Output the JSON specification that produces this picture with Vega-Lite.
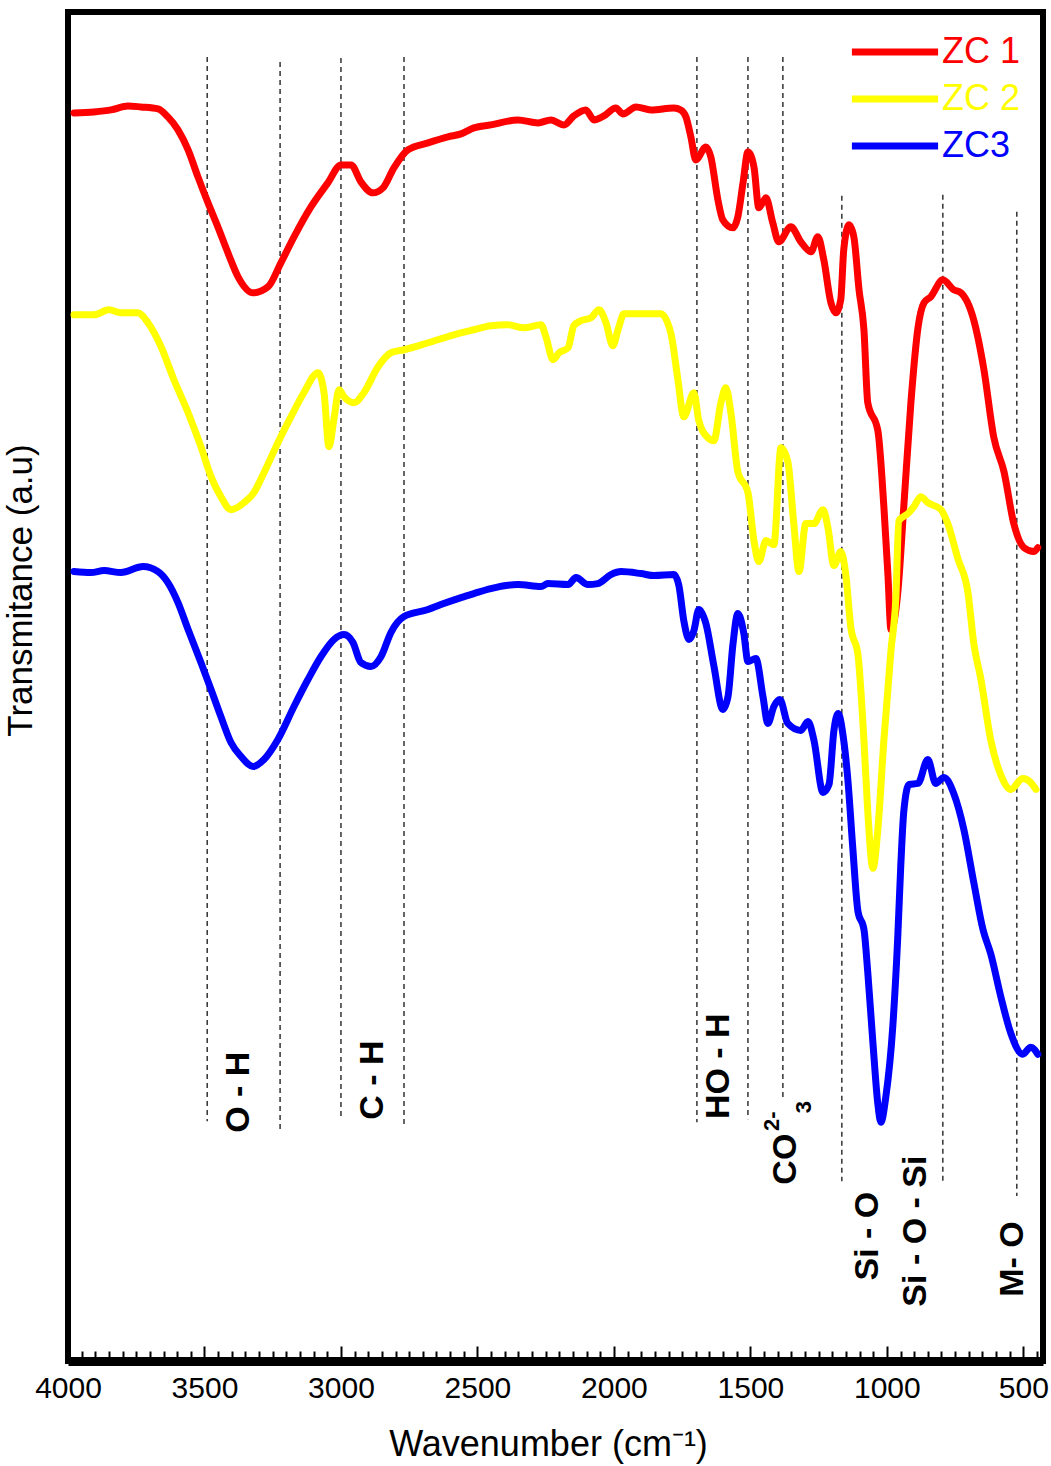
{
  "$schema": "https://vega.github.io/schema/vega-lite/v6.json",
  "description": "FTIR spectra of ZC 1, ZC 2 and ZC3 with band assignments.",
  "width": 975,
  "height": 1349,
  "autosize": "none",
  "padding": {"left": 68, "top": 12, "right": 8, "bottom": 105},
  "datasets": {
    "spectra": [
      {"sample": "ZC 1", "wavenumber": 3978, "transmittance": 1249},
      {"sample": "ZC 1", "wavenumber": 3905, "transmittance": 1250},
      {"sample": "ZC 1", "wavenumber": 3842, "transmittance": 1252},
      {"sample": "ZC 1", "wavenumber": 3780, "transmittance": 1256},
      {"sample": "ZC 1", "wavenumber": 3733, "transmittance": 1255},
      {"sample": "ZC 1", "wavenumber": 3670, "transmittance": 1253},
      {"sample": "ZC 1", "wavenumber": 3634, "transmittance": 1245},
      {"sample": "ZC 1", "wavenumber": 3597, "transmittance": 1232},
      {"sample": "ZC 1", "wavenumber": 3560, "transmittance": 1212},
      {"sample": "ZC 1", "wavenumber": 3524, "transmittance": 1185},
      {"sample": "ZC 1", "wavenumber": 3487, "transmittance": 1159},
      {"sample": "ZC 1", "wavenumber": 3451, "transmittance": 1135},
      {"sample": "ZC 1", "wavenumber": 3414, "transmittance": 1109},
      {"sample": "ZC 1", "wavenumber": 3377, "transmittance": 1085},
      {"sample": "ZC 1", "wavenumber": 3322, "transmittance": 1069},
      {"sample": "ZC 1", "wavenumber": 3267, "transmittance": 1075},
      {"sample": "ZC 1", "wavenumber": 3220, "transmittance": 1099},
      {"sample": "ZC 1", "wavenumber": 3172, "transmittance": 1125},
      {"sample": "ZC 1", "wavenumber": 3110, "transmittance": 1155},
      {"sample": "ZC 1", "wavenumber": 3048, "transmittance": 1179},
      {"sample": "ZC 1", "wavenumber": 3000, "transmittance": 1197},
      {"sample": "ZC 1", "wavenumber": 2963, "transmittance": 1197},
      {"sample": "ZC 1", "wavenumber": 2927, "transmittance": 1180},
      {"sample": "ZC 1", "wavenumber": 2883, "transmittance": 1169},
      {"sample": "ZC 1", "wavenumber": 2846, "transmittance": 1174},
      {"sample": "ZC 1", "wavenumber": 2806, "transmittance": 1194},
      {"sample": "ZC 1", "wavenumber": 2755, "transmittance": 1212},
      {"sample": "ZC 1", "wavenumber": 2681, "transmittance": 1219},
      {"sample": "ZC 1", "wavenumber": 2608, "transmittance": 1225},
      {"sample": "ZC 1", "wavenumber": 2560, "transmittance": 1228},
      {"sample": "ZC 1", "wavenumber": 2513, "transmittance": 1234},
      {"sample": "ZC 1", "wavenumber": 2451, "transmittance": 1237},
      {"sample": "ZC 1", "wavenumber": 2352, "transmittance": 1242},
      {"sample": "ZC 1", "wavenumber": 2278, "transmittance": 1239},
      {"sample": "ZC 1", "wavenumber": 2231, "transmittance": 1242},
      {"sample": "ZC 1", "wavenumber": 2183, "transmittance": 1237},
      {"sample": "ZC 1", "wavenumber": 2147, "transmittance": 1246},
      {"sample": "ZC 1", "wavenumber": 2103, "transmittance": 1252},
      {"sample": "ZC 1", "wavenumber": 2073, "transmittance": 1242},
      {"sample": "ZC 1", "wavenumber": 2037, "transmittance": 1246},
      {"sample": "ZC 1", "wavenumber": 1993, "transmittance": 1254},
      {"sample": "ZC 1", "wavenumber": 1967, "transmittance": 1248},
      {"sample": "ZC 1", "wavenumber": 1919, "transmittance": 1255},
      {"sample": "ZC 1", "wavenumber": 1864, "transmittance": 1252},
      {"sample": "ZC 1", "wavenumber": 1780, "transmittance": 1254},
      {"sample": "ZC 1", "wavenumber": 1755, "transmittance": 1252},
      {"sample": "ZC 1", "wavenumber": 1736, "transmittance": 1245},
      {"sample": "ZC 1", "wavenumber": 1718, "transmittance": 1225},
      {"sample": "ZC 1", "wavenumber": 1700, "transmittance": 1202},
      {"sample": "ZC 1", "wavenumber": 1663, "transmittance": 1215},
      {"sample": "ZC 1", "wavenumber": 1645, "transmittance": 1205},
      {"sample": "ZC 1", "wavenumber": 1619, "transmittance": 1162},
      {"sample": "ZC 1", "wavenumber": 1601, "transmittance": 1142},
      {"sample": "ZC 1", "wavenumber": 1564, "transmittance": 1134},
      {"sample": "ZC 1", "wavenumber": 1546, "transmittance": 1145},
      {"sample": "ZC 1", "wavenumber": 1527, "transmittance": 1179},
      {"sample": "ZC 1", "wavenumber": 1509, "transmittance": 1210},
      {"sample": "ZC 1", "wavenumber": 1487, "transmittance": 1195},
      {"sample": "ZC 1", "wavenumber": 1469, "transmittance": 1154},
      {"sample": "ZC 1", "wavenumber": 1443, "transmittance": 1164},
      {"sample": "ZC 1", "wavenumber": 1418, "transmittance": 1139},
      {"sample": "ZC 1", "wavenumber": 1396, "transmittance": 1120},
      {"sample": "ZC 1", "wavenumber": 1352, "transmittance": 1135},
      {"sample": "ZC 1", "wavenumber": 1315, "transmittance": 1120},
      {"sample": "ZC 1", "wavenumber": 1278, "transmittance": 1110},
      {"sample": "ZC 1", "wavenumber": 1253, "transmittance": 1125},
      {"sample": "ZC 1", "wavenumber": 1231, "transmittance": 1102},
      {"sample": "ZC 1", "wavenumber": 1205, "transmittance": 1059},
      {"sample": "ZC 1", "wavenumber": 1187, "transmittance": 1049},
      {"sample": "ZC 1", "wavenumber": 1169, "transmittance": 1062},
      {"sample": "ZC 1", "wavenumber": 1158, "transmittance": 1112},
      {"sample": "ZC 1", "wavenumber": 1139, "transmittance": 1137},
      {"sample": "ZC 1", "wavenumber": 1121, "transmittance": 1125},
      {"sample": "ZC 1", "wavenumber": 1102, "transmittance": 1072},
      {"sample": "ZC 1", "wavenumber": 1084, "transmittance": 1032},
      {"sample": "ZC 1", "wavenumber": 1070, "transmittance": 959},
      {"sample": "ZC 1", "wavenumber": 1033, "transmittance": 931},
      {"sample": "ZC 1", "wavenumber": 1011, "transmittance": 855},
      {"sample": "ZC 1", "wavenumber": 996, "transmittance": 786},
      {"sample": "ZC 1", "wavenumber": 985, "transmittance": 732},
      {"sample": "ZC 1", "wavenumber": 960, "transmittance": 769},
      {"sample": "ZC 1", "wavenumber": 938, "transmittance": 855},
      {"sample": "ZC 1", "wavenumber": 912, "transmittance": 959},
      {"sample": "ZC 1", "wavenumber": 886, "transmittance": 1034},
      {"sample": "ZC 1", "wavenumber": 864, "transmittance": 1059},
      {"sample": "ZC 1", "wavenumber": 839, "transmittance": 1065},
      {"sample": "ZC 1", "wavenumber": 795, "transmittance": 1082},
      {"sample": "ZC 1", "wavenumber": 755, "transmittance": 1072},
      {"sample": "ZC 1", "wavenumber": 729, "transmittance": 1069},
      {"sample": "ZC 1", "wavenumber": 681, "transmittance": 1041},
      {"sample": "ZC 1", "wavenumber": 645, "transmittance": 993},
      {"sample": "ZC 1", "wavenumber": 608, "transmittance": 924},
      {"sample": "ZC 1", "wavenumber": 571, "transmittance": 890},
      {"sample": "ZC 1", "wavenumber": 535, "transmittance": 838},
      {"sample": "ZC 1", "wavenumber": 498, "transmittance": 814},
      {"sample": "ZC 1", "wavenumber": 462, "transmittance": 810},
      {"sample": "ZC 1", "wavenumber": 447, "transmittance": 814},
      {"sample": "ZC 2", "wavenumber": 3978, "transmittance": 1047},
      {"sample": "ZC 2", "wavenumber": 3905, "transmittance": 1047},
      {"sample": "ZC 2", "wavenumber": 3850, "transmittance": 1052},
      {"sample": "ZC 2", "wavenumber": 3806, "transmittance": 1049},
      {"sample": "ZC 2", "wavenumber": 3744, "transmittance": 1049},
      {"sample": "ZC 2", "wavenumber": 3707, "transmittance": 1039},
      {"sample": "ZC 2", "wavenumber": 3659, "transmittance": 1015},
      {"sample": "ZC 2", "wavenumber": 3612, "transmittance": 982},
      {"sample": "ZC 2", "wavenumber": 3560, "transmittance": 949},
      {"sample": "ZC 2", "wavenumber": 3513, "transmittance": 915},
      {"sample": "ZC 2", "wavenumber": 3476, "transmittance": 885},
      {"sample": "ZC 2", "wavenumber": 3440, "transmittance": 865},
      {"sample": "ZC 2", "wavenumber": 3403, "transmittance": 852},
      {"sample": "ZC 2", "wavenumber": 3355, "transmittance": 859},
      {"sample": "ZC 2", "wavenumber": 3319, "transmittance": 869},
      {"sample": "ZC 2", "wavenumber": 3282, "transmittance": 889},
      {"sample": "ZC 2", "wavenumber": 3231, "transmittance": 919},
      {"sample": "ZC 2", "wavenumber": 3183, "transmittance": 945},
      {"sample": "ZC 2", "wavenumber": 3136, "transmittance": 969},
      {"sample": "ZC 2", "wavenumber": 3084, "transmittance": 989},
      {"sample": "ZC 2", "wavenumber": 3062, "transmittance": 969},
      {"sample": "ZC 2", "wavenumber": 3044, "transmittance": 915},
      {"sample": "ZC 2", "wavenumber": 3026, "transmittance": 942},
      {"sample": "ZC 2", "wavenumber": 3007, "transmittance": 972},
      {"sample": "ZC 2", "wavenumber": 2989, "transmittance": 965},
      {"sample": "ZC 2", "wavenumber": 2952, "transmittance": 959},
      {"sample": "ZC 2", "wavenumber": 2916, "transmittance": 969},
      {"sample": "ZC 2", "wavenumber": 2864, "transmittance": 995},
      {"sample": "ZC 2", "wavenumber": 2817, "transmittance": 1009},
      {"sample": "ZC 2", "wavenumber": 2769, "transmittance": 1012},
      {"sample": "ZC 2", "wavenumber": 2681, "transmittance": 1019},
      {"sample": "ZC 2", "wavenumber": 2586, "transmittance": 1027},
      {"sample": "ZC 2", "wavenumber": 2513, "transmittance": 1032},
      {"sample": "ZC 2", "wavenumber": 2451, "transmittance": 1036},
      {"sample": "ZC 2", "wavenumber": 2388, "transmittance": 1037},
      {"sample": "ZC 2", "wavenumber": 2330, "transmittance": 1034},
      {"sample": "ZC 2", "wavenumber": 2267, "transmittance": 1037},
      {"sample": "ZC 2", "wavenumber": 2249, "transmittance": 1025},
      {"sample": "ZC 2", "wavenumber": 2223, "transmittance": 1002},
      {"sample": "ZC 2", "wavenumber": 2201, "transmittance": 1009},
      {"sample": "ZC 2", "wavenumber": 2168, "transmittance": 1014},
      {"sample": "ZC 2", "wavenumber": 2147, "transmittance": 1036},
      {"sample": "ZC 2", "wavenumber": 2121, "transmittance": 1041},
      {"sample": "ZC 2", "wavenumber": 2084, "transmittance": 1044},
      {"sample": "ZC 2", "wavenumber": 2055, "transmittance": 1052},
      {"sample": "ZC 2", "wavenumber": 2029, "transmittance": 1039},
      {"sample": "ZC 2", "wavenumber": 2004, "transmittance": 1016},
      {"sample": "ZC 2", "wavenumber": 1985, "transmittance": 1032},
      {"sample": "ZC 2", "wavenumber": 1963, "transmittance": 1048},
      {"sample": "ZC 2", "wavenumber": 1901, "transmittance": 1048},
      {"sample": "ZC 2", "wavenumber": 1828, "transmittance": 1048},
      {"sample": "ZC 2", "wavenumber": 1791, "transmittance": 1028},
      {"sample": "ZC 2", "wavenumber": 1766, "transmittance": 983},
      {"sample": "ZC 2", "wavenumber": 1744, "transmittance": 945},
      {"sample": "ZC 2", "wavenumber": 1707, "transmittance": 969},
      {"sample": "ZC 2", "wavenumber": 1689, "transmittance": 941},
      {"sample": "ZC 2", "wavenumber": 1656, "transmittance": 924},
      {"sample": "ZC 2", "wavenumber": 1634, "transmittance": 921},
      {"sample": "ZC 2", "wavenumber": 1608, "transmittance": 959},
      {"sample": "ZC 2", "wavenumber": 1590, "transmittance": 974},
      {"sample": "ZC 2", "wavenumber": 1571, "transmittance": 948},
      {"sample": "ZC 2", "wavenumber": 1546, "transmittance": 890},
      {"sample": "ZC 2", "wavenumber": 1509, "transmittance": 869},
      {"sample": "ZC 2", "wavenumber": 1487, "transmittance": 821},
      {"sample": "ZC 2", "wavenumber": 1469, "transmittance": 800},
      {"sample": "ZC 2", "wavenumber": 1443, "transmittance": 821},
      {"sample": "ZC 2", "wavenumber": 1414, "transmittance": 817},
      {"sample": "ZC 2", "wavenumber": 1388, "transmittance": 914},
      {"sample": "ZC 2", "wavenumber": 1363, "transmittance": 900},
      {"sample": "ZC 2", "wavenumber": 1341, "transmittance": 838},
      {"sample": "ZC 2", "wavenumber": 1322, "transmittance": 790},
      {"sample": "ZC 2", "wavenumber": 1297, "transmittance": 838},
      {"sample": "ZC 2", "wavenumber": 1267, "transmittance": 838},
      {"sample": "ZC 2", "wavenumber": 1234, "transmittance": 852},
      {"sample": "ZC 2", "wavenumber": 1216, "transmittance": 834},
      {"sample": "ZC 2", "wavenumber": 1194, "transmittance": 796},
      {"sample": "ZC 2", "wavenumber": 1169, "transmittance": 810},
      {"sample": "ZC 2", "wavenumber": 1150, "transmittance": 786},
      {"sample": "ZC 2", "wavenumber": 1132, "transmittance": 734},
      {"sample": "ZC 2", "wavenumber": 1106, "transmittance": 707},
      {"sample": "ZC 2", "wavenumber": 1084, "transmittance": 621},
      {"sample": "ZC 2", "wavenumber": 1070, "transmittance": 550},
      {"sample": "ZC 2", "wavenumber": 1051, "transmittance": 493},
      {"sample": "ZC 2", "wavenumber": 1033, "transmittance": 532},
      {"sample": "ZC 2", "wavenumber": 1011, "transmittance": 621},
      {"sample": "ZC 2", "wavenumber": 985, "transmittance": 711},
      {"sample": "ZC 2", "wavenumber": 967, "transmittance": 764},
      {"sample": "ZC 2", "wavenumber": 956, "transmittance": 841},
      {"sample": "ZC 2", "wavenumber": 923, "transmittance": 848},
      {"sample": "ZC 2", "wavenumber": 901, "transmittance": 855},
      {"sample": "ZC 2", "wavenumber": 876, "transmittance": 865},
      {"sample": "ZC 2", "wavenumber": 850, "transmittance": 859},
      {"sample": "ZC 2", "wavenumber": 802, "transmittance": 852},
      {"sample": "ZC 2", "wavenumber": 777, "transmittance": 838},
      {"sample": "ZC 2", "wavenumber": 740, "transmittance": 803},
      {"sample": "ZC 2", "wavenumber": 703, "transmittance": 769},
      {"sample": "ZC 2", "wavenumber": 681, "transmittance": 717},
      {"sample": "ZC 2", "wavenumber": 656, "transmittance": 683},
      {"sample": "ZC 2", "wavenumber": 619, "transmittance": 621},
      {"sample": "ZC 2", "wavenumber": 582, "transmittance": 586},
      {"sample": "ZC 2", "wavenumber": 546, "transmittance": 572},
      {"sample": "ZC 2", "wavenumber": 502, "transmittance": 583},
      {"sample": "ZC 2", "wavenumber": 473, "transmittance": 579},
      {"sample": "ZC 2", "wavenumber": 454, "transmittance": 572},
      {"sample": "ZC3", "wavenumber": 3978, "transmittance": 790},
      {"sample": "ZC3", "wavenumber": 3916, "transmittance": 789},
      {"sample": "ZC3", "wavenumber": 3868, "transmittance": 791},
      {"sample": "ZC3", "wavenumber": 3806, "transmittance": 789},
      {"sample": "ZC3", "wavenumber": 3725, "transmittance": 795},
      {"sample": "ZC3", "wavenumber": 3670, "transmittance": 790},
      {"sample": "ZC3", "wavenumber": 3634, "transmittance": 779},
      {"sample": "ZC3", "wavenumber": 3597, "transmittance": 759},
      {"sample": "ZC3", "wavenumber": 3560, "transmittance": 732},
      {"sample": "ZC3", "wavenumber": 3513, "transmittance": 699},
      {"sample": "ZC3", "wavenumber": 3476, "transmittance": 672},
      {"sample": "ZC3", "wavenumber": 3440, "transmittance": 645},
      {"sample": "ZC3", "wavenumber": 3403, "transmittance": 619},
      {"sample": "ZC3", "wavenumber": 3366, "transmittance": 605},
      {"sample": "ZC3", "wavenumber": 3322, "transmittance": 595},
      {"sample": "ZC3", "wavenumber": 3282, "transmittance": 602},
      {"sample": "ZC3", "wavenumber": 3231, "transmittance": 622},
      {"sample": "ZC3", "wavenumber": 3172, "transmittance": 655},
      {"sample": "ZC3", "wavenumber": 3121, "transmittance": 682},
      {"sample": "ZC3", "wavenumber": 3073, "transmittance": 705},
      {"sample": "ZC3", "wavenumber": 3026, "transmittance": 722},
      {"sample": "ZC3", "wavenumber": 2989, "transmittance": 727},
      {"sample": "ZC3", "wavenumber": 2956, "transmittance": 719},
      {"sample": "ZC3", "wavenumber": 2927, "transmittance": 699},
      {"sample": "ZC3", "wavenumber": 2890, "transmittance": 695},
      {"sample": "ZC3", "wavenumber": 2853, "transmittance": 705},
      {"sample": "ZC3", "wavenumber": 2817, "transmittance": 729},
      {"sample": "ZC3", "wavenumber": 2769, "transmittance": 745},
      {"sample": "ZC3", "wavenumber": 2681, "transmittance": 752},
      {"sample": "ZC3", "wavenumber": 2634, "transmittance": 757},
      {"sample": "ZC3", "wavenumber": 2560, "transmittance": 764},
      {"sample": "ZC3", "wavenumber": 2513, "transmittance": 768},
      {"sample": "ZC3", "wavenumber": 2451, "transmittance": 773},
      {"sample": "ZC3", "wavenumber": 2352, "transmittance": 777},
      {"sample": "ZC3", "wavenumber": 2267, "transmittance": 775},
      {"sample": "ZC3", "wavenumber": 2242, "transmittance": 778},
      {"sample": "ZC3", "wavenumber": 2168, "transmittance": 777},
      {"sample": "ZC3", "wavenumber": 2139, "transmittance": 784},
      {"sample": "ZC3", "wavenumber": 2095, "transmittance": 777},
      {"sample": "ZC3", "wavenumber": 2059, "transmittance": 778},
      {"sample": "ZC3", "wavenumber": 2011, "transmittance": 787},
      {"sample": "ZC3", "wavenumber": 1974, "transmittance": 790},
      {"sample": "ZC3", "wavenumber": 1901, "transmittance": 788},
      {"sample": "ZC3", "wavenumber": 1853, "transmittance": 786},
      {"sample": "ZC3", "wavenumber": 1780, "transmittance": 787},
      {"sample": "ZC3", "wavenumber": 1762, "transmittance": 776},
      {"sample": "ZC3", "wavenumber": 1744, "transmittance": 741},
      {"sample": "ZC3", "wavenumber": 1725, "transmittance": 722},
      {"sample": "ZC3", "wavenumber": 1707, "transmittance": 731},
      {"sample": "ZC3", "wavenumber": 1689, "transmittance": 752},
      {"sample": "ZC3", "wavenumber": 1663, "transmittance": 738},
      {"sample": "ZC3", "wavenumber": 1634, "transmittance": 696},
      {"sample": "ZC3", "wavenumber": 1601, "transmittance": 652},
      {"sample": "ZC3", "wavenumber": 1582, "transmittance": 665},
      {"sample": "ZC3", "wavenumber": 1564, "transmittance": 717},
      {"sample": "ZC3", "wavenumber": 1546, "transmittance": 748},
      {"sample": "ZC3", "wavenumber": 1524, "transmittance": 728},
      {"sample": "ZC3", "wavenumber": 1509, "transmittance": 700},
      {"sample": "ZC3", "wavenumber": 1480, "transmittance": 703},
      {"sample": "ZC3", "wavenumber": 1454, "transmittance": 665},
      {"sample": "ZC3", "wavenumber": 1436, "transmittance": 638},
      {"sample": "ZC3", "wavenumber": 1414, "transmittance": 655},
      {"sample": "ZC3", "wavenumber": 1392, "transmittance": 662},
      {"sample": "ZC3", "wavenumber": 1363, "transmittance": 638},
      {"sample": "ZC3", "wavenumber": 1315, "transmittance": 631},
      {"sample": "ZC3", "wavenumber": 1289, "transmittance": 640},
      {"sample": "ZC3", "wavenumber": 1267, "transmittance": 621},
      {"sample": "ZC3", "wavenumber": 1234, "transmittance": 569},
      {"sample": "ZC3", "wavenumber": 1212, "transmittance": 577},
      {"sample": "ZC3", "wavenumber": 1194, "transmittance": 631},
      {"sample": "ZC3", "wavenumber": 1179, "transmittance": 648},
      {"sample": "ZC3", "wavenumber": 1158, "transmittance": 621},
      {"sample": "ZC3", "wavenumber": 1143, "transmittance": 582},
      {"sample": "ZC3", "wavenumber": 1125, "transmittance": 514},
      {"sample": "ZC3", "wavenumber": 1106, "transmittance": 450},
      {"sample": "ZC3", "wavenumber": 1084, "transmittance": 432},
      {"sample": "ZC3", "wavenumber": 1070, "transmittance": 389},
      {"sample": "ZC3", "wavenumber": 1051, "transmittance": 318},
      {"sample": "ZC3", "wavenumber": 1033, "transmittance": 257},
      {"sample": "ZC3", "wavenumber": 1022, "transmittance": 239},
      {"sample": "ZC3", "wavenumber": 1004, "transmittance": 264},
      {"sample": "ZC3", "wavenumber": 978, "transmittance": 336},
      {"sample": "ZC3", "wavenumber": 960, "transmittance": 425},
      {"sample": "ZC3", "wavenumber": 949, "transmittance": 496},
      {"sample": "ZC3", "wavenumber": 938, "transmittance": 550},
      {"sample": "ZC3", "wavenumber": 919, "transmittance": 577},
      {"sample": "ZC3", "wavenumber": 886, "transmittance": 578},
      {"sample": "ZC3", "wavenumber": 850, "transmittance": 602},
      {"sample": "ZC3", "wavenumber": 821, "transmittance": 578},
      {"sample": "ZC3", "wavenumber": 791, "transmittance": 584},
      {"sample": "ZC3", "wavenumber": 755, "transmittance": 568},
      {"sample": "ZC3", "wavenumber": 718, "transmittance": 532},
      {"sample": "ZC3", "wavenumber": 681, "transmittance": 478},
      {"sample": "ZC3", "wavenumber": 648, "transmittance": 432},
      {"sample": "ZC3", "wavenumber": 619, "transmittance": 407},
      {"sample": "ZC3", "wavenumber": 582, "transmittance": 364},
      {"sample": "ZC3", "wavenumber": 546, "transmittance": 328},
      {"sample": "ZC3", "wavenumber": 502, "transmittance": 307},
      {"sample": "ZC3", "wavenumber": 473, "transmittance": 314},
      {"sample": "ZC3", "wavenumber": 447, "transmittance": 307}
    ],
    "bands": [
      {"wavenumber": 3490, "transmittance": 1305, "bottom": 240},
      {"wavenumber": 3223, "transmittance": 1300, "bottom": 232},
      {"wavenumber": 3000, "transmittance": 1304, "bottom": 242},
      {"wavenumber": 2769, "transmittance": 1305, "bottom": 237},
      {"wavenumber": 1696, "transmittance": 1305, "bottom": 239},
      {"wavenumber": 1509, "transmittance": 1305, "bottom": 242},
      {"wavenumber": 1381, "transmittance": 1305, "bottom": 262},
      {"wavenumber": 1165, "transmittance": 1166, "bottom": 180},
      {"wavenumber": 795, "transmittance": 1167, "bottom": 180},
      {"wavenumber": 524, "transmittance": 1150, "bottom": 165}
    ],
    "labels": [
      {"label": "O - H", "wavenumber": 3374, "transmittance": 269},
      {"label": "C - H", "wavenumber": 2883, "transmittance": 281},
      {"label": "HO - H", "wavenumber": 1615, "transmittance": 295},
      {"label": "CO", "wavenumber": 1370, "transmittance": 202},
      {"label": "Si - O", "wavenumber": 1070, "transmittance": 125},
      {"label": "Si - O - Si", "wavenumber": 894, "transmittance": 130},
      {"label": "M- O", "wavenumber": 538, "transmittance": 102}
    ],
    "scripts": [
      {"label": "2-", "wavenumber": 1421, "transmittance": 240},
      {"label": "3", "wavenumber": 1304, "transmittance": 254}
    ]
  },
  "encoding": {
    "x": {
      "field": "wavenumber",
      "type": "quantitative",
      "scale": {"domain": [4000, 428], "nice": false, "zero": false},
      "axis": {
        "title": "Wavenumber (cm⁻¹)",
        "values": [4000, 3950, 3900, 3850, 3800, 3750, 3700, 3650, 3600, 3550, 3500, 3450, 3400, 3350, 3300, 3250, 3200, 3150, 3100, 3050, 3000, 2950, 2900, 2850, 2800, 2750, 2700, 2650, 2600, 2550, 2500, 2450, 2400, 2350, 2300, 2250, 2200, 2150, 2100, 2050, 2000, 1950, 1900, 1850, 1800, 1750, 1700, 1650, 1600, 1550, 1500, 1450, 1400, 1350, 1300, 1250, 1200, 1150, 1100, 1050, 1000, 950, 900, 850, 800, 750, 700, 650, 600, 550, 500, 450],
        "format": "d",
        "labelExpr": "datum.value % 500 === 0 ? datum.label : ''",
        "labelFlush": false,
        "labelOverlap": false,
        "labelFont": "Liberation Sans",
        "labelFontSize": 30,
        "labelColor": "black",
        "labelBaseline": "alphabetic",
        "labelPadding": 51,
        "tickSize": -15,
        "tickWidth": 2,
        "tickColor": "black",
        "tickDash": {"condition": {"test": "datum.value % 500 === 0", "value": [15, 0]}, "value": [10, 20]},
        "domainColor": "black",
        "domainWidth": 9,
        "titleFont": "Liberation Sans",
        "titleFontSize": 36,
        "titleFontWeight": "normal",
        "titleColor": "black",
        "titleBaseline": "alphabetic",
        "titleX": 480,
        "titleY": 94
      }
    },
    "y": {
      "field": "transmittance",
      "type": "quantitative",
      "scale": {"domain": [0, 1350], "nice": false, "zero": false},
      "axis": {
        "title": "Transmitance (a.u)",
        "labels": false,
        "ticks": false,
        "domain": false,
        "titleFont": "Liberation Sans",
        "titleFontSize": 35,
        "titleFontWeight": "normal",
        "titleColor": "black",
        "titlePadding": 30,
        "titleY": 578
      }
    }
  },
  "layer": [
    {
      "data": {"name": "bands"},
      "mark": {"type": "rule", "strokeDash": [5, 4], "strokeWidth": 1.5, "color": "#333333"},
      "encoding": {"y2": {"field": "bottom"}}
    },
    {
      "data": {"name": "spectra"},
      "mark": {"type": "line", "strokeWidth": 7, "strokeJoin": "round", "strokeCap": "round", "interpolate": "monotone"},
      "encoding": {
        "color": {
          "field": "sample",
          "type": "nominal",
          "scale": {"domain": ["ZC 1", "ZC 2", "ZC3"], "range": ["#ff0000", "#ffff00", "#0000ff"]},
          "legend": {
            "title": null,
            "orient": "none",
            "legendX": 798,
            "legendY": 11,
            "padding": 0,
            "symbolType": "M-1.69,0H1.69",
            "symbolSize": 2601,
            "symbolStrokeWidth": 7,
            "labelFont": "Liberation Sans",
            "labelFontSize": 36,
            "labelOffset": 18,
            "rowPadding": 0,
            "encode": {"labels": {"update": {"fill": {"scale": "color", "field": "value"}}}}
          }
        }
      }
    },
    {
      "data": {"name": "labels"},
      "mark": {"type": "text", "font": "Liberation Sans", "fontWeight": "bold", "fontSize": 34, "angle": 270, "align": "center", "baseline": "middle", "color": "black"},
      "encoding": {"text": {"field": "label"}}
    },
    {
      "data": {"name": "scripts"},
      "mark": {"type": "text", "font": "Liberation Sans", "fontWeight": "bold", "fontSize": 22, "angle": 270, "align": "center", "baseline": "middle", "color": "black"},
      "encoding": {"text": {"field": "label"}}
    }
  ],
  "config": {
    "view": {"stroke": "black", "strokeWidth": 6},
    "axis": {"grid": false}
  }
}
